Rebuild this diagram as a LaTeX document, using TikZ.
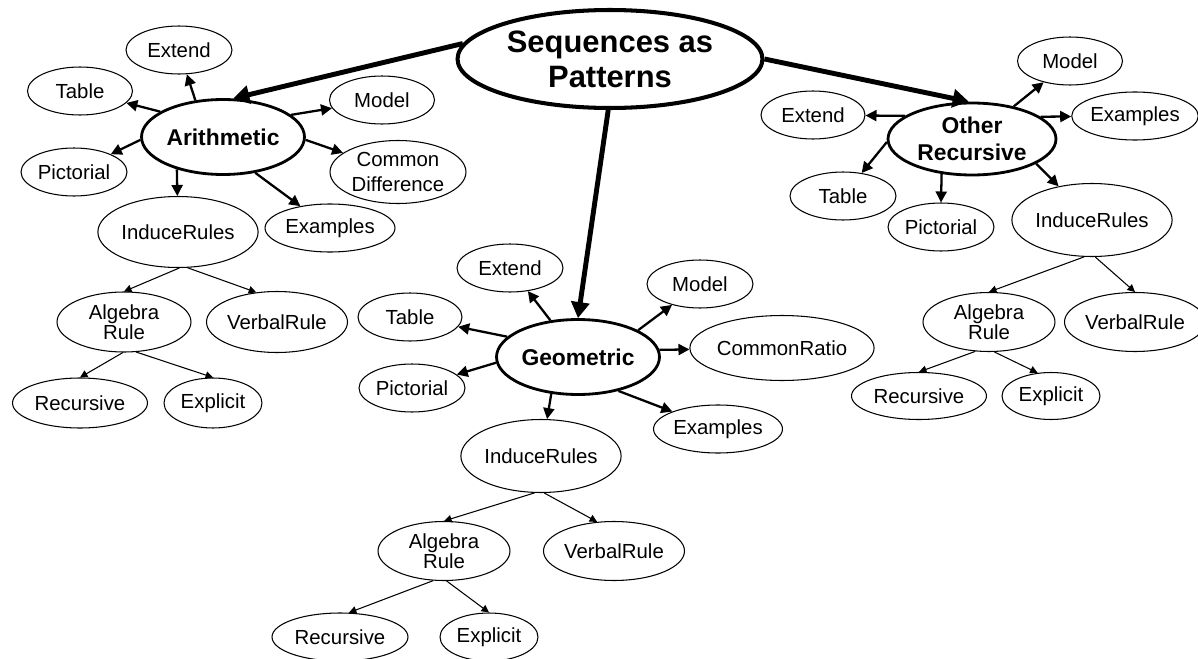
\documentclass[tikz,border=0pt]{standalone}
\usepackage{fontspec}
\setmainfont{Liberation Sans}
\usepackage{tikz}
\usetikzlibrary{shapes.geometric}
\usetikzlibrary{arrows.meta}

\tikzset{
  topic/.style={ellipse, draw, line width=2.3pt, inner sep=0pt, align=center,
    font=\bfseries\fontsize{17.6}{20}\selectfont},
  hub/.style={ellipse, draw, line width=1.6pt, inner sep=0pt, align=center,
    minimum width=3.26cm, minimum height=1.5cm,
    font=\bfseries\fontsize{13}{15.7}\selectfont},
  leaf/.style={ellipse, draw, line width=0.6pt, inner sep=0pt, align=center,
    minimum height=0.96cm, font=\fontsize{11.6}{11.4}\selectfont},
  bigarrow/.style={line width=2.8pt, -{Triangle[length=0.32cm,width=0.36cm]}},
  midarrow/.style={line width=1.3pt, -{Triangle[length=0.22cm,width=0.22cm]}},
  smallarrow/.style={line width=0.6pt, -{Triangle[length=0.15cm,width=0.15cm]}},
}

\begin{document}
\begin{tikzpicture}[x=0.02cm, y=-0.02cm]
  \useasboundingbox (0,0) rectangle (1198,659);

  % main topic
  \node[topic, minimum width=6.1cm, minimum height=1.96cm] (main) at (610,59) {Sequences as\\Patterns};

  % arithmetic
  \node[hub] (arith) at (223,137) {Arithmetic};
  \node[leaf, minimum width=2.12cm] (aExt) at (179,50) {Extend};
  \node[leaf, minimum width=2.1cm] (aTab) at (80,91) {Table};
  \node[leaf, minimum width=2.1cm] (aMod) at (382,100) {Model};
  \node[leaf, minimum width=2.12cm] (aPic) at (74,172) {Pictorial};
  \node[leaf, minimum width=2.72cm, minimum height=1.26cm, font=\fontsize{11.6}{14.2}\selectfont] (aDiff) at (398,172) {Common\\Difference};
  \node[leaf, minimum width=3.18cm, minimum height=1.42cm] (aIR) at (178,232) {InduceRules};
  \node[leaf, minimum width=2.6cm] (aEx) at (330,228) {Examples};
  \node[leaf, minimum width=2.68cm, minimum height=1.2cm] (aAlg) at (124,322) {Algebra\\Rule};
  \node[leaf, minimum width=2.64cm, minimum height=1.22cm] (aVerb) at (277,322) {VerbalRule};
  \node[leaf, minimum width=2.7cm, minimum height=1cm] (aRec) at (80,403) {Recursive};
  \node[leaf, minimum width=1.96cm, minimum height=1cm] (aExp) at (213,403) {Explicit};

  % geometric
  \node[hub] (geo) at (578,357) {Geometric};
  \node[leaf, minimum width=2.12cm] (gExt) at (510,268) {Extend};
  \node[leaf, minimum width=2.12cm] (gMod) at (700,284) {Model};
  \node[leaf, minimum width=2.08cm] (gTab) at (410,317) {Table};
  \node[leaf, minimum width=2.12cm] (gPic) at (412,388) {Pictorial};
  \node[leaf, minimum width=3.3cm, minimum height=1.3cm] (gRatio) at (782,348) {CommonRatio};
  \node[leaf, minimum width=2.58cm] (gEx) at (718,429) {Examples};
  \node[leaf, minimum width=3.16cm, minimum height=1.46cm] (gIR) at (541,456) {InduceRules};
  \node[leaf, minimum width=2.64cm, minimum height=1.18cm] (gAlg) at (444,551) {Algebra\\Rule};
  \node[leaf, minimum width=2.64cm, minimum height=1.18cm] (gVerb) at (614,551) {VerbalRule};
  \node[leaf, minimum width=2.72cm] (gRec) at (340,637) {Recursive};
  \node[leaf, minimum width=1.96cm] (gExp) at (489,637) {Explicit};

  % other recursive
  \node[hub, minimum width=3.36cm, minimum height=1.44cm] (oth) at (972,139) {Other\\Recursive};
  \node[leaf, minimum width=2.1cm] (oMod) at (1070,61) {Model};
  \node[leaf, minimum width=2.08cm] (oExt) at (813,115) {Extend};
  \node[leaf, minimum width=2.48cm] (oEx) at (1135,116) {Examples};
  \node[leaf, minimum width=2.12cm] (oTab) at (843,196) {Table};
  \node[leaf, minimum width=2.12cm] (oPic) at (941,227) {Pictorial};
  \node[leaf, minimum width=3.16cm, minimum height=1.46cm] (oIR) at (1092,220) {InduceRules};
  \node[leaf, minimum width=2.64cm, minimum height=1.18cm] (oAlg) at (989,322) {Algebra\\Rule};
  \node[leaf, minimum width=2.48cm, minimum height=1.18cm] (oVerb) at (1135,322) {VerbalRule};
  \node[leaf, minimum width=2.7cm, minimum height=0.94cm] (oRec) at (919,396) {Recursive};
  \node[leaf, minimum width=1.96cm, minimum height=0.94cm] (oExp) at (1051,396) {Explicit};

  % main links
  \draw[bigarrow] (main.174) -- (arith.75);
  \draw[bigarrow] (main.268) -- (geo.north);
  \draw[bigarrow] (main.east) -- (oth.95);

  % arithmetic links
  \draw[midarrow] (arith.127) -- (aExt);
  \draw[midarrow] (arith.158) -- (aTab);
  \draw[midarrow] (arith.182) -- (aPic);
  \draw[midarrow] (arith.215) -- (aIR);
  \draw[midarrow] (arith.312) -- (aEx);
  \draw[midarrow] (arith.358) -- (aDiff);
  \draw[midarrow] (arith.18) -- (aMod);
  \draw[smallarrow] (aIR.272) -- (aAlg.north);
  \draw[smallarrow] (aIR.285) -- (aVerb.125);
  \draw[smallarrow] (aAlg.268) -- (aRec.north);
  \draw[smallarrow] (aAlg.292) -- (aExp.north);

  % geometric links
  \draw[midarrow] (geo.127) -- (gExt);
  \draw[midarrow] (geo.164) -- (gTab);
  \draw[midarrow] (geo.184) -- (gPic);
  \draw[midarrow] (geo.234) -- (gIR);
  \draw[midarrow] (geo.320) -- (gEx);
  \draw[midarrow] (geo.5) -- (gRatio);
  \draw[midarrow] (geo.24) -- (gMod);
  \draw[smallarrow] (gIR.260) -- (gAlg.north);
  \draw[smallarrow] (gIR.275) -- (gVerb.120);
  \draw[smallarrow] (gAlg.250) -- (gRec.70);
  \draw[smallarrow] (gAlg.275) -- (gExp.north);

  % other recursive links
  \draw[midarrow] (oth.38) -- (oMod);
  \draw[midarrow] (oth.18) -- (oEx);
  \draw[midarrow] (oth.161) -- (oExt);
  \draw[midarrow] (oth.182) -- (oTab);
  \draw[midarrow] (oth.229) -- (oPic.north);
  \draw[midarrow] (oth.339) -- (oIR);
  \draw[smallarrow] (oIR.258) -- (oAlg.north);
  \draw[smallarrow] (oIR.275) -- (oVerb.north);
  \draw[smallarrow] (oAlg.245) -- (oRec.north);
  \draw[smallarrow] (oAlg.280) -- (oExp.120);
\end{tikzpicture}
\end{document}
